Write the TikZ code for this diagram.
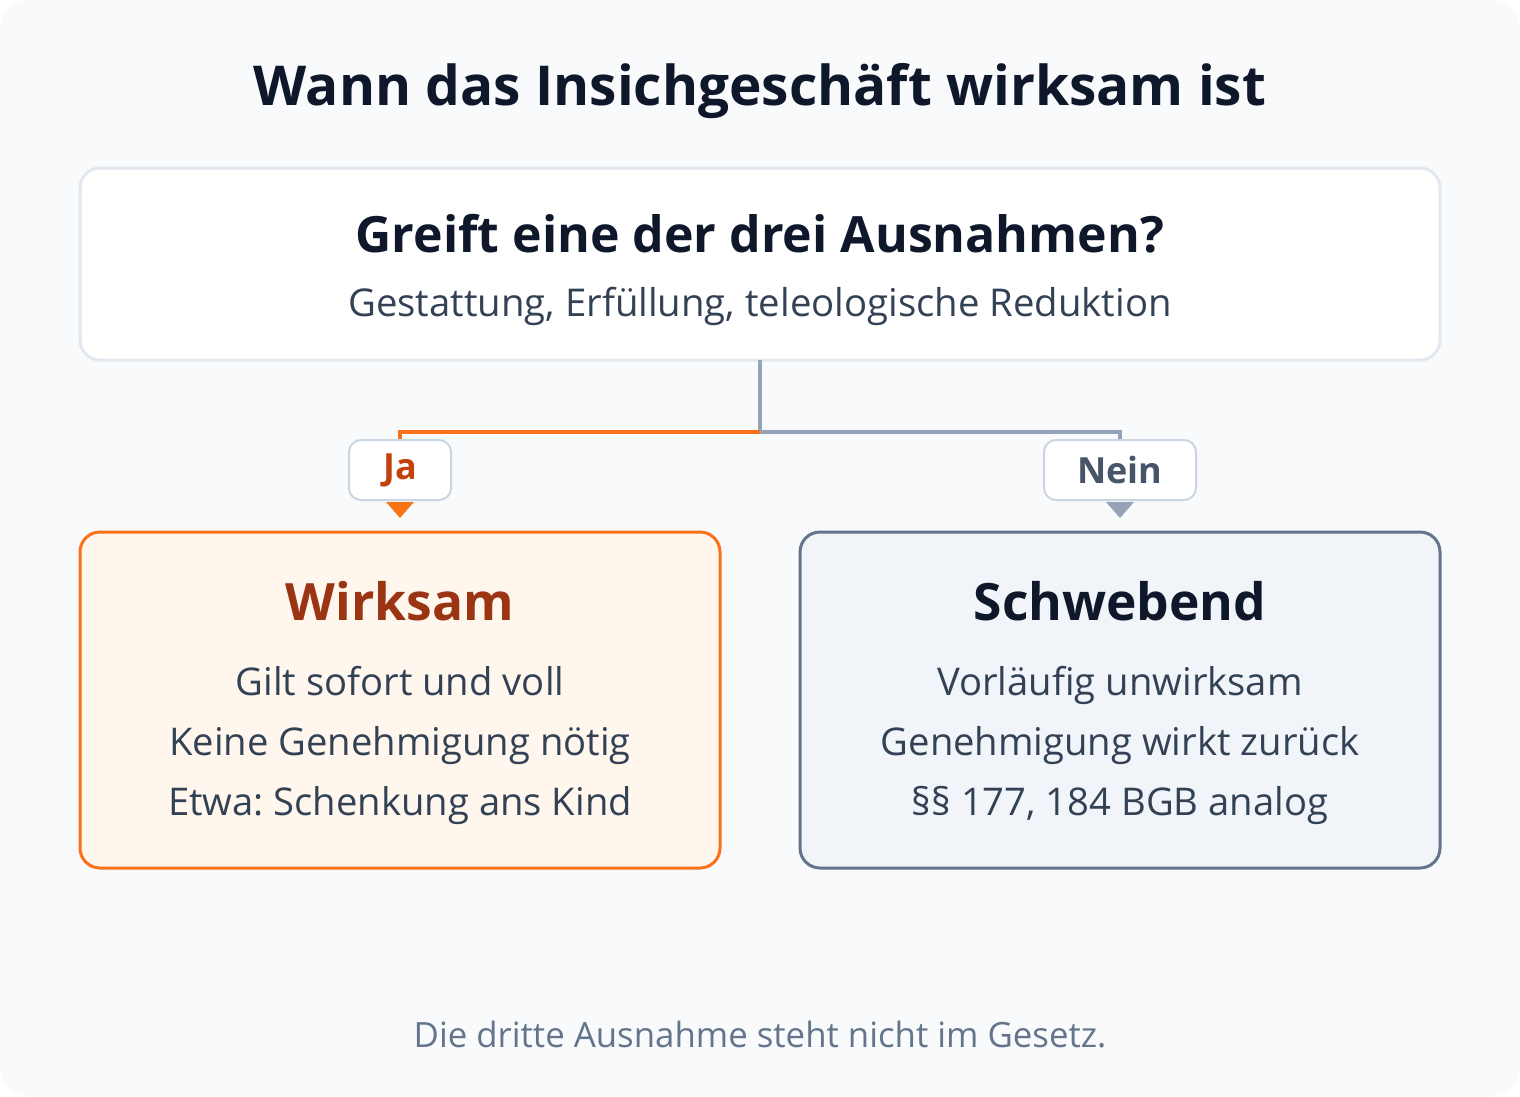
\documentclass[tikz,border=0pt]{standalone}
\usepackage{fontspec}
\setmainfont{Open Sans}
\frenchspacing
\usetikzlibrary{positioning}
\definecolor{bgc}{HTML}{F8FAFC}
\definecolor{ink}{HTML}{0F172A}
\definecolor{body}{HTML}{334155}
\definecolor{muted}{HTML}{64748B}
\definecolor{lineg}{HTML}{94A3B8}
\definecolor{topb}{HTML}{E2E8F0}
\definecolor{lblb}{HTML}{CBD5E1}
\definecolor{orng}{HTML}{F97316}
\definecolor{orngd}{HTML}{C2410C}
\definecolor{orngt}{HTML}{9A3412}
\definecolor{orngf}{HTML}{FFF7ED}
\definecolor{slatef}{HTML}{F1F5F9}
\definecolor{slateb}{HTML}{64748B}
\definecolor{neint}{HTML}{475569}
\newcommand{\fs}[1]{\fontsize{#1}{#1}\selectfont}
\tikzset{
  box/.style={rounded corners=20pt, line width=3pt, inner sep=0pt},
  lbl/.style={draw=lblb, fill=white, line width=2pt, rounded corners=12pt, minimum height=60pt, inner sep=0pt, font=\fs{36}\bfseries},
  txt/.style={anchor=base, inner sep=0pt},
  conn/.style={line width=4pt},
}
\begin{document}
\begin{tikzpicture}[x=1pt,y=-1pt]
\useasboundingbox (0,0) rectangle (1520,1096);
\fill[white] (0,0) rectangle (1520,1096);
\fill[bgc, rounded corners=28pt] (0,0) rectangle (1520,1096);

\node[txt, font=\fs{55}\bfseries, text=ink] (title) at (760,105) {Wann das Insichgeschäft wirksam ist};

\draw[box, draw=topb, fill=white] (80,168) rectangle (1440,360);
\coordinate (topbot) at (760,360);
\node[txt, font=\fs{50}\bfseries, text=ink] (q) at (760,252) {Greift eine der drei Ausnahmen?};
\node[txt, font=\fs{38.3}, text=body] (qs) at (760,316) {Gestattung, Erfüllung, teleologische Reduktion};

\coordinate (fork) at (760,432);
\coordinate (ja0) at (400,432);
\coordinate (nein0) at (1120,432);
\node[lbl, minimum width=102pt, text=orngd] (ja) at (400,470) {Ja};
\node[lbl, minimum width=152pt, text=neint] (nein) at (1120,470) {Nein};

\draw[conn, draw=lineg] (topbot) -- (fork);
\draw[conn, draw=orng] (fork) -- (ja0) -- (ja.north);
\draw[conn, draw=lineg] (fork) -- (nein0) -- (nein.north);

\draw[box, draw=orng, fill=orngf] (80,532) rectangle (720,868);
\draw[box, draw=slateb, fill=slatef] (800,532) rectangle (1440,868);

\fill[orng] (386,502) -- (414,502) -- (400,518) -- cycle;
\fill[lineg] (1106,502) -- (1134,502) -- (1120,518) -- cycle;

\node[txt, font=\fs{51.5}\bfseries, text=orngt] (w) at (400,620) {Wirksam};
\node[txt, font=\fs{38.2}, text=body] (w1) at (400,695) {Gilt sofort und voll};
\node[txt, font=\fs{38.2}, text=body] (w2) at (400,755) {Keine Genehmigung nötig};
\node[txt, font=\fs{38.2}, text=body] (w3) at (400,815) {Etwa: Schenkung ans Kind};

\node[txt, font=\fs{51.5}\bfseries, text=ink] (s) at (1120,620) {Schwebend};
\node[txt, font=\fs{38.2}, text=body] (s1) at (1120,695) {Vorläufig unwirksam};
\node[txt, font=\fs{38.2}, text=body] (s2) at (1120,755) {Genehmigung wirkt zurück};
\node[txt, font=\fs{38.2}, text=body] (s3) at (1120,815) {§§ 177, 184 BGB analog};

\node[txt, font=\fs{34.8}, text=muted] (foot) at (760,1047) {Die dritte Ausnahme steht nicht im Gesetz.};
\end{tikzpicture}
\end{document}
